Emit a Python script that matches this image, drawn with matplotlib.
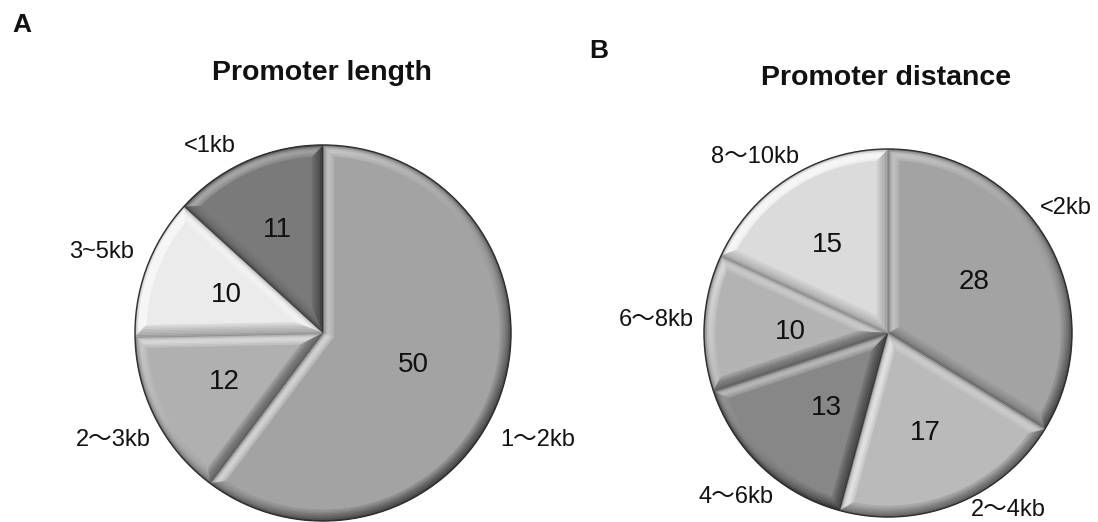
import numpy as np
import matplotlib
matplotlib.use('Agg')
import matplotlib.pyplot as plt
from matplotlib.collections import PolyCollection

# ---------------- data ----------------
len_title = 'Promoter length'
len_labels = ['1～2kb', '2～3kb', '3~5kb', '<1kb']
len_values = [50, 12, 10, 11]
len_grays = [0.64, 0.69, 0.92, 0.48]

dist_title = 'Promoter distance'
dist_labels = ['<2kb', '2～4kb', '4～6kb', '6～8kb', '8～10kb']
dist_values = [28, 17, 13, 10, 15]
dist_grays = [0.64, 0.73, 0.53, 0.70, 0.86]

# ---------------- layout (image pixel coords, y down) ----------------
W, H = 1098, 522
FONT = ['Liberation Sans', 'Noto Sans CJK JP', 'DejaVu Sans']

fig = plt.figure(figsize=(W / 100, H / 100), dpi=100)
ax = fig.add_axes([0, 0, 1, 1])
ax.set_xlim(0, W)
ax.set_ylim(0, H)
ax.set_aspect('equal')
ax.axis('off')

LIGHT = np.array([-0.6, 0.8])
LIGHT = LIGHT / np.linalg.norm(LIGHT)


def bevel(ax, wedge, gray, d=11.0, nlayers=7, narc=140):
    cx, cy = wedge.center
    R = wedge.r
    t1, t2 = np.radians(wedge.theta1), np.radians(wedge.theta2)
    O = np.array([cx, cy])
    dt = t2 - t1
    tm = 0.5 * (t1 + t2)
    c_in = O + d / np.sin(dt / 2) * np.array([np.cos(tm), np.sin(tm)])
    r_in = np.sqrt((R - d) ** 2 - d ** 2)
    delta = np.arctan2(d, r_in)
    ang_o = np.linspace(t1, t2, narc)
    ang_i = np.linspace(t1 + delta, t2 - delta, narc)
    outer = np.vstack([O, np.c_[cx + R * np.cos(ang_o), cy + R * np.sin(ang_o)]])
    inner = np.vstack([c_in, np.c_[cx + (R - d) * np.cos(ang_i), cy + (R - d) * np.sin(ang_i)]])
    n = len(outer)
    seg = np.roll(outer, -1, axis=0) - outer
    normals = np.c_[seg[:, 1], -seg[:, 0]]
    normals /= np.linalg.norm(normals, axis=1)[:, None]
    lit = normals @ LIGHT
    is_arc = np.zeros(n, bool)
    is_arc[1:n - 1] = True
    ts = np.linspace(0, 1, nlayers + 1)
    polys, cols = [], []
    for k in range(nlayers):
        A = outer * (1 - ts[k]) + inner * ts[k]
        B = outer * (1 - ts[k + 1]) + inner * ts[k + 1]
        tmid = 0.5 * (ts[k] + ts[k + 1])
        for j in range(n):
            j2 = (j + 1) % n
            polys.append([A[j], A[j2], B[j2], B[j]])
            s = gray + 0.22 * lit[j] * (0.4 + 0.6 * np.sin(np.pi * min(1, tmid * 1.1)))
            s -= 0.28 * (1 - tmid) ** 4
            if is_arc[j]:
                s -= 0.10 * (1 - tmid) ** 2
            s = float(np.clip(s, 0.05, 0.97))
            cols.append((s, s, s))
    pc = PolyCollection(polys, facecolors=cols, edgecolors=cols, linewidths=0.3, zorder=3)
    ax.add_collection(pc)


def draw_pie(ax, values, grays, center_img, radius):
    cx, cy = center_img[0], H - center_img[1]
    wedges, _ = ax.pie(values, startangle=90, counterclock=False,
                       colors=[(g, g, g) for g in grays], radius=radius,
                       center=(cx, cy), frame=True,
                       wedgeprops=dict(linewidth=0))
    for w, g in zip(wedges, grays):
        bevel(ax, w, g)
    circ = plt.Circle((cx, cy), radius, fill=False, ec='#303030', lw=1.0, zorder=4)
    ax.add_patch(circ)
    return wedges


draw_pie(ax, len_values, len_grays, (323, 333), 188)
draw_pie(ax, dist_values, dist_grays, (888, 333), 184)
ax.set_xlim(0, W)
ax.set_ylim(0, H)
ax.axis('off')


def txt(x, y, s, size, weight='normal', ha='center'):
    ax.text(x, H - y, s, fontsize=size, fontweight=weight, ha=ha, va='center',
            family=FONT, color='#111111', zorder=6)


# panel letters & titles
txt(22, 25, 'A', 19, 'bold')
txt(599, 51, 'B', 19, 'bold')
txt(322, 73, len_title, 20.5, 'bold')
txt(886, 78, dist_title, 20.5, 'bold')

# category labels (outside)
len_label_pos = [(538, 440), (113, 440), (102, 252), (210, 146)]
for (x, y), s in zip(len_label_pos, len_labels):
    txt(x, y, s, 17)
dist_label_pos = [(1066, 208), (1008, 510), (736, 497), (656, 320), (755, 157)]
for (x, y), s in zip(dist_label_pos, dist_labels):
    txt(x, y, s, 17)

# value labels (inside)
len_val_pos = [(413, 365), (224, 382), (226, 295), (277, 230)]
for (x, y), v in zip(len_val_pos, len_values):
    txt(x, y, str(v), 20)
dist_val_pos = [(974, 282), (925, 433), (826, 408), (790, 332), (827, 245)]
for (x, y), v in zip(dist_val_pos, dist_values):
    txt(x, y, str(v), 20)

fig.savefig('out.png', dpi=100, facecolor='white')
